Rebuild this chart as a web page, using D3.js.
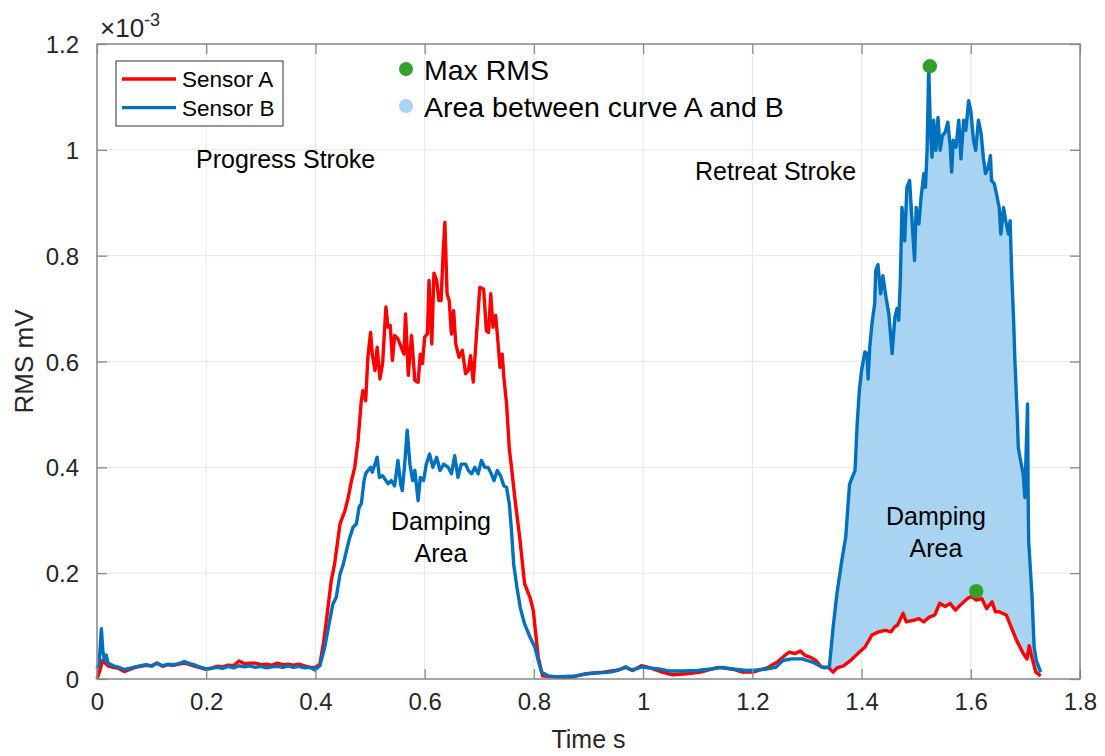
<!DOCTYPE html>
<html><head><meta charset="utf-8">
<script src="https://cdn.jsdelivr.net/npm/d3@7"></script>
<style>
html,body{margin:0;padding:0;background:#fff;}
svg{display:block;font-family:"Liberation Sans",Arial,sans-serif;}
</style></head>
<body><svg id="c" width="1105" height="756"></svg>
<script>
// ---- data (values in units of 1e-3 mV, time in s) ----
const xTicks = [0,0.2,0.4,0.6,0.8,1,1.2,1.4,1.6,1.8];
const yTicks = [0,0.2,0.4,0.6,0.8,1,1.2];
const seriesNames = ["Sensor A","Sensor B"];

const timeA = [0,0.005,0.01,0.015,0.02,0.03,0.04,0.05,0.06,0.07,0.08,0.09,0.1,0.11,0.12,0.13,0.14,0.15,0.16,0.17,0.18,0.19,0.2,0.21,0.22,0.23,0.24,0.25,0.26,0.27,0.28,0.29,0.3,0.31,0.32,0.33,0.34,0.35,0.36,0.37,0.38,0.39,0.4,
0.408,0.415,0.42,0.429,0.435,0.445,0.454,0.46,0.466,0.472,0.478,0.484,0.487,0.492,0.496,0.501,0.504,0.509,0.513,0.518,0.523,0.529,0.533,0.537,0.541,0.545,0.551,0.557,0.562,0.565,0.57,0.576,0.582,0.588,0.592,0.596,0.6,0.605,0.608,0.613,0.617,0.622,0.626,0.63,0.634,0.637,0.641,0.645,0.649,0.653,0.657,0.663,0.669,0.675,0.68,0.684,0.689,0.695,0.701,0.708,0.713,0.717,0.721,0.725,0.73,0.735,0.738,0.742,0.745,0.75,0.755,0.759,0.765,0.774,0.783,0.793,0.799,0.804,0.808,0.816,
0.841,0.869,0.895,0.927,0.955,0.968,0.981,0.997,1.013,1.035,1.054,1.08,1.105,1.137,1.163,1.182,1.201,1.227,1.246,1.259,1.268,1.278,1.288,1.297,1.307,1.316,1.326,1.339,
1.348,1.355,1.367,1.38,1.393,1.406,1.419,1.431,1.444,1.454,1.46,1.466,1.476,1.482,1.495,1.505,1.514,1.524,1.534,1.543,1.553,1.562,1.572,1.581,1.594,1.601,1.61,1.62,1.629,1.639,1.645,1.652,1.665,1.674,1.684,1.696,1.703,1.707,1.712,1.719,1.728];
const sensorA = [0,0.015,0.035,0.03,0.025,0.022,0.02,0.014,0.018,0.022,0.024,0.026,0.025,0.03,0.024,0.027,0.026,0.028,0.03,0.027,0.024,0.021,0.018,0.021,0.024,0.023,0.026,0.025,0.034,0.029,0.03,0.03,0.027,0.028,0.026,0.03,0.027,0.028,0.026,0.028,0.025,0.022,0.022,
0.028,0.07,0.11,0.186,0.217,0.293,0.318,0.343,0.375,0.40,0.45,0.526,0.545,0.526,0.608,0.655,0.614,0.583,0.627,0.567,0.596,0.703,0.665,0.668,0.602,0.649,0.643,0.627,0.614,0.69,0.574,0.649,0.564,0.561,0.614,0.596,0.646,0.652,0.753,0.633,0.767,0.753,0.715,0.715,0.809,0.863,0.728,0.715,0.652,0.696,0.633,0.608,0.621,0.577,0.583,0.611,0.561,0.652,0.74,0.737,0.658,0.655,0.728,0.665,0.687,0.627,0.589,0.614,0.57,0.52,0.435,0.40,0.343,0.268,0.18,0.154,0.129,0.079,0.041,0.006,
0.003,0.003,0.01,0.013,0.017,0.022,0.016,0.025,0.021,0.013,0.008,0.01,0.013,0.022,0.019,0.013,0.013,0.021,0.032,0.044,0.051,0.048,0.053,0.044,0.041,0.035,0.023,0.022,
0.013,0.021,0.025,0.035,0.048,0.06,0.083,0.089,0.092,0.089,0.098,0.102,0.124,0.108,0.111,0.114,0.108,0.117,0.121,0.143,0.137,0.143,0.13,0.14,0.152,0.156,0.149,0.152,0.133,0.146,0.127,0.127,0.121,0.098,0.073,0.048,0.038,0.063,0.041,0.013,0.006];

const timeB = [0,0.004,0.008,0.011,0.014,0.017,0.02,0.03,0.04,0.05,0.06,0.07,0.08,0.09,0.1,0.11,0.12,0.13,0.14,0.15,0.16,0.17,0.18,0.19,0.2,0.21,0.22,0.23,0.24,0.25,0.26,0.27,0.28,0.29,0.3,0.31,0.32,0.33,0.34,0.35,0.36,0.37,0.38,0.39,0.399,
0.408,0.417,0.426,0.432,0.438,0.445,0.451,0.457,0.463,0.469,0.475,0.48,0.484,0.489,0.492,0.496,0.501,0.504,0.509,0.513,0.517,0.523,0.529,0.533,0.539,0.545,0.551,0.556,0.559,0.564,0.568,0.573,0.578,0.582,0.588,0.592,0.598,0.603,0.609,0.615,0.622,0.628,0.635,0.643,0.649,0.655,0.661,0.667,0.675,0.68,0.686,0.692,0.698,0.704,0.71,0.716,0.722,0.727,0.733,0.739,0.745,0.75,0.755,0.759,0.763,0.769,0.775,0.783,0.793,0.802,0.808,0.814,0.826,
0.843,0.875,0.907,0.939,0.955,0.968,0.978,0.987,0.997,1.01,1.029,1.048,1.073,1.099,1.125,1.144,1.163,1.189,1.208,1.227,1.243,1.256,1.272,1.291,1.31,1.323,1.332,1.341,
1.348,1.355,1.364,1.371,1.378,1.383,1.388,1.392,1.396,1.4,1.406,1.41,1.412,1.415,1.419,1.424,1.426,1.43,1.435,1.439,1.445,1.45,1.456,1.461,1.465,1.468,1.471,1.474,1.479,1.483,1.488,1.492,1.497,1.5,1.505,1.509,1.514,1.517,1.52,1.523,1.526,1.529,1.532,1.536,1.54,1.544,1.548,1.553,1.558,1.562,1.565,1.568,1.573,1.578,1.582,1.587,1.591,1.596,1.6,1.605,1.609,1.614,1.619,1.623,1.627,1.632,1.636,1.638,1.643,1.647,1.652,1.655,1.66,1.664,1.669,1.672,1.675,1.678,1.681,1.685,1.687,1.69,1.696,1.699,1.702,1.704,1.705,1.706,1.712,1.716,1.72,1.728];
const sensorB = [0.02,0.03,0.095,0.05,0.035,0.045,0.03,0.025,0.022,0.018,0.02,0.023,0.025,0.027,0.024,0.03,0.025,0.028,0.027,0.029,0.033,0.029,0.026,0.022,0.019,0.02,0.022,0.02,0.024,0.021,0.025,0.023,0.025,0.022,0.024,0.021,0.023,0.024,0.022,0.025,0.022,0.024,0.021,0.022,0.017,
0.025,0.06,0.11,0.142,0.154,0.198,0.217,0.243,0.268,0.287,0.293,0.325,0.331,0.375,0.388,0.394,0.40,0.391,0.406,0.419,0.381,0.384,0.375,0.369,0.375,0.365,0.413,0.369,0.356,0.413,0.47,0.406,0.375,0.394,0.337,0.381,0.375,0.406,0.425,0.40,0.419,0.394,0.406,0.40,0.388,0.422,0.381,0.406,0.406,0.394,0.388,0.40,0.388,0.413,0.40,0.40,0.388,0.375,0.394,0.384,0.365,0.362,0.331,0.28,0.217,0.173,0.135,0.104,0.079,0.06,0.035,0.013,0.006,
0.004,0.006,0.011,0.013,0.017,0.023,0.017,0.019,0.023,0.021,0.019,0.015,0.015,0.016,0.019,0.022,0.019,0.016,0.017,0.019,0.022,0.035,0.038,0.038,0.032,0.025,0.021,0.023,
0.098,0.162,0.225,0.268,0.368,0.381,0.394,0.482,0.545,0.583,0.618,0.615,0.567,0.627,0.671,0.709,0.772,0.783,0.728,0.762,0.72,0.69,0.615,0.684,0.70,0.678,0.753,0.891,0.828,0.929,0.942,0.873,0.791,0.891,0.86,0.91,0.955,0.929,0.999,1.156,1.043,0.986,1.056,0.999,1.061,0.999,1.027,1.033,1.052,1.011,0.958,1.018,1.005,1.056,0.983,1.056,1.037,1.093,1.074,1.018,0.999,1.056,1.03,0.986,0.955,0.967,0.989,0.942,0.936,0.917,0.891,0.841,0.891,0.866,0.841,0.866,0.765,0.69,0.596,0.50,0.438,0.419,0.387,0.343,0.45,0.52,0.35,0.26,0.16,0.06,0.035,0.013];

const maxTime = [1.525, 1.61];
const maxValue = [1.158, 0.166];
const areaStart = 1.339;

// ---- drawing ----
const svg = d3.select("#c");
const L = 97, R = 1080, T = 44, B = 679;
const x = d3.scaleLinear().domain([0,1.8]).range([L,R]);
const y = d3.scaleLinear().domain([0,1.2]).range([B,T]);
const FONT = '"Liberation Sans",Arial,sans-serif';
const axisCol = "#8a8a8a", textCol = "#262626";
const fmt = d => String(+d.toFixed(1));

// grid
const g = svg.append("g");
g.selectAll(".gx").data(xTicks).join("line")
  .attr("x1",d=>x(d)).attr("x2",d=>x(d)).attr("y1",T).attr("y2",B)
  .attr("stroke","#e6e6e6").attr("stroke-width",1);
g.selectAll(".gy").data(yTicks).join("line")
  .attr("y1",d=>y(d)).attr("y2",d=>y(d)).attr("x1",L).attr("x2",R)
  .attr("stroke","#e6e6e6").attr("stroke-width",1);

// area between curves
const A = timeA.map((t,i)=>[t,sensorA[i]]);
const Bp = timeB.map((t,i)=>[t,sensorB[i]]);
const poly = Bp.filter(p=>p[0]>=areaStart).concat(A.filter(p=>p[0]>=areaStart).reverse());
const line = d3.line().x(d=>x(d[0])).y(d=>y(d[1]));
svg.append("path").attr("d", line(poly)+"Z").attr("fill","#a9d4f1").attr("stroke","none");

// lines
svg.append("path").attr("d", line(A)).attr("fill","none").attr("stroke","#ff0000")
  .attr("stroke-width",3.4).attr("stroke-linejoin","round");
svg.append("path").attr("d", line(Bp)).attr("fill","none").attr("stroke","#0072bd")
  .attr("stroke-width",3.4).attr("stroke-linejoin","round");

// max dots
svg.selectAll(".mx").data(maxTime).join("circle")
  .attr("cx",d=>x(d)).attr("cy",(d,i)=>y(maxValue[i])).attr("r",7.2).attr("fill","#34a02c");

// axes
function styleAxis(sel, labels){
  sel.select(".domain").remove();
  sel.selectAll(".tick line").attr("stroke",axisCol).attr("stroke-width",1.3);
  sel.selectAll(".tick text").attr("fill",textCol).style("font-size","24px").style("font-family",FONT);
  if(!labels) sel.selectAll(".tick text").remove();
}
const xa = svg.append("g").attr("transform",`translate(0,${B})`)
  .call(d3.axisBottom(x).tickValues(xTicks).tickFormat(fmt).tickSizeInner(-10).tickSizeOuter(0).tickPadding(14));
styleAxis(xa,true);
const xt = svg.append("g").attr("transform",`translate(0,${T})`)
  .call(d3.axisTop(x).tickValues(xTicks).tickSizeInner(-10).tickSizeOuter(0));
styleAxis(xt,false);
const ya = svg.append("g").attr("transform",`translate(${L},0)`)
  .call(d3.axisLeft(y).tickValues(yTicks).tickFormat(fmt).tickSizeInner(-10).tickSizeOuter(0).tickPadding(18));
styleAxis(ya,true);
ya.selectAll(".tick text").attr("dy","0.36em");
const yr = svg.append("g").attr("transform",`translate(${R},0)`)
  .call(d3.axisRight(y).tickValues(yTicks).tickSizeInner(-10).tickSizeOuter(0));
styleAxis(yr,false);
svg.append("rect").attr("x",L).attr("y",T).attr("width",R-L).attr("height",B-T)
  .attr("fill","none").attr("stroke",axisCol).attr("stroke-width",1.5);

// axis labels
svg.append("text").attr("x",(L+R)/2).attr("y",748).attr("text-anchor","middle")
  .attr("fill",textCol).style("font-size","25px").text("Time s");
svg.append("text").attr("transform",`translate(33,${(T+B)/2}) rotate(-90)`).attr("text-anchor","middle")
  .attr("fill",textCol).style("font-size","26px").text("RMS mV");
const ex = svg.append("text").attr("x",100).attr("y",37).attr("fill",textCol).style("font-size","26px");
ex.append("tspan").text("\u00d710");
ex.append("tspan").attr("dy",-11).style("font-size","18px").text("-3");

// legend (series)
const lg = svg.append("g");
lg.append("rect").attr("x",116).attr("y",61).attr("width",167).attr("height",65)
  .attr("fill","#fff").attr("stroke","#333").attr("stroke-width",1);
const lcols = ["#ff0000","#0072bd"];
seriesNames.forEach((n,i)=>{
  const yy = 79 + i*28.6;
  lg.append("line").attr("x1",122).attr("x2",176).attr("y1",yy).attr("y2",yy)
    .attr("stroke",lcols[i]).attr("stroke-width",3.4);
  lg.append("text").attr("x",182).attr("y",yy+8).attr("fill","#000").style("font-size","22.5px").text(n);
});

// legend (markers)
const mk = [["#34a02c","Max RMS",69,80],["#a9d4f1","Area between curve A and B",106,117]];
mk.forEach(m=>{
  svg.append("circle").attr("cx",406).attr("cy",m[2]).attr("r",7).attr("fill",m[0]);
  svg.append("text").attr("x",424).attr("y",m[3]).attr("fill","#000").style("font-size","28.5px").text(m[1]);
});

// annotations
const ann = [["Progress Stroke",196,168,"start"],["Retreat Stroke",695,180,"start"],
  ["Damping",441,530,"middle"],["Area",441,562,"middle"],["Damping",936,525,"middle"],["Area",936,557,"middle"]];
ann.forEach(a=>{
  svg.append("text").attr("x",a[1]).attr("y",a[2]).attr("text-anchor",a[3])
    .attr("fill","#000").style("font-size","25px").text(a[0]);
});
</script></body></html>
